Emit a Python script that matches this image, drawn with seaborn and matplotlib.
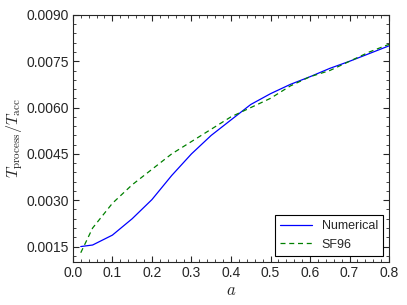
import numpy as np
import pandas as pd
import matplotlib
matplotlib.use("Agg")
import matplotlib.pyplot as plt
from matplotlib.ticker import MultipleLocator
import seaborn as sns

a_vals = [0.02, 0.05, 0.1, 0.15, 0.2, 0.25, 0.3, 0.35, 0.4, 0.45, 0.5,
          0.55, 0.6, 0.65, 0.7, 0.75, 0.8]
numerical = [0.0015, 0.00155, 0.00187, 0.0024, 0.00302, 0.0038, 0.0045,
             0.0051, 0.0056, 0.0061, 0.00645, 0.00675, 0.0070, 0.00727,
             0.0075, 0.00775, 0.0080]
sf96 = [0.0013, 0.0021, 0.0029, 0.0035, 0.0040, 0.0045, 0.0049, 0.0053,
        0.0057, 0.0060, 0.0063, 0.0067, 0.0070, 0.0072, 0.0075, 0.0078,
        0.00805]

df = pd.DataFrame({
    "a": a_vals * 2,
    "ratio": numerical + sf96,
    "model": ["Numerical"] * len(a_vals) + ["SF96"] * len(a_vals),
})

sns.set_style("ticks")
plt.rcParams["font.family"] = ["Liberation Sans", "DejaVu Sans"]
plt.rcParams["mathtext.fontset"] = "cm"
plt.rcParams["xtick.direction"] = "in"
plt.rcParams["ytick.direction"] = "in"

fig = plt.figure(figsize=(4.07, 3.05), dpi=100)
ax = fig.add_axes([0.179, 0.141, 0.777, 0.810])

sns.lineplot(data=df, x="a", y="ratio", hue="model", style="model",
             palette={"Numerical": "#0000ff", "SF96": "#008000"},
             dashes={"Numerical": "", "SF96": (4, 3)},
             linewidth=0.9, ax=ax)

ax.set_xlim(0.0, 0.8)
ax.set_ylim(0.001, 0.009)
ax.xaxis.set_major_locator(MultipleLocator(0.1))
ax.xaxis.set_minor_locator(MultipleLocator(0.02))
ax.yaxis.set_major_locator(MultipleLocator(0.0015))
ax.yaxis.set_minor_locator(MultipleLocator(0.0003))
ax.yaxis.set_major_formatter(matplotlib.ticker.FormatStrFormatter("%.4f"))
ax.tick_params(which="both", direction="in", top=True, right=True,
               labelsize=10, pad=3)
ax.tick_params(which="major", length=4)
ax.tick_params(which="minor", length=2)
for s in ax.spines.values():
    s.set_linewidth(0.8)

ax.set_xlabel("$a$", fontsize=12, labelpad=2)
ax.set_ylabel(r"$T_{\rm process}/T_{\rm acc}$", fontsize=11.5)
ax.yaxis.set_label_coords(-0.15, 0.5)

leg = ax.legend(loc="lower right", fontsize=9, fancybox=False, framealpha=1,
                edgecolor="black", handlelength=2.5)
leg.get_frame().set_linewidth(0.8)

fig.savefig("out.png", dpi=100)
